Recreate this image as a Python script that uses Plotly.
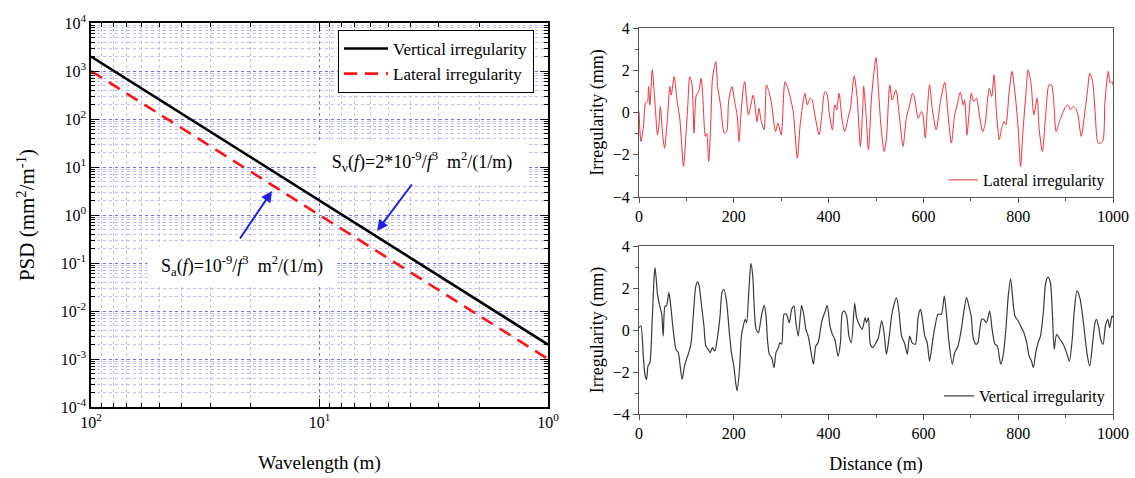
import plotly.graph_objects as go

# ---------------- data ----------------
psd_wavelength = [100, 1]
psd_vertical = [2000, 0.002]
psd_lateral = [1000, 0.001]

psd_y_exponents = [4, 3, 2, 1, 0, -1, -2, -3, -4]
psd_x_exponents = [2, 1, 0]

lateral_dist = [0,4,9,14,18,20,23,28,32,34,
                39,42,45,50,54,58,62,65,68,74,
                81,86,94,99,103,107,112,116,121,126,
                131,134,140,143,147,152,155,162,166,172,
                180,185,189,196,203,207,211,215,220,223,
                231,241,246,249,253,258,264,269,274,279,
                288,293,300,308,315,325,334,340,347,350,
                355,361,365,371,380,385,392,397,401,408,
                413,417,422,429,434,441,446,454,460,467,
                472,474,479,484,491,500,505,510,517,522,
                529,534,542,549,557,564,571,577,582,589,
                596,599,604,608,613,619,627,636,645,652,
                659,666,671,678,684,687,692,696,701,706,
                712,718,725,730,735,739,744,749,754,760,
                765,770,774,781,787,793,800,805,810,816,
                821,827,833,840,844,851,858,865,870,875,
                880,887,894,900,905,910,916,921,926,933,
                940,946,951,957,962,969,978,983,990,994,
                998,1000]
lateral_mm = [0.05,-1.37,-0.74,0.47,0.52,1.23,0.36,2.02,0.99,0.36,
              -1.06,-0.58,0.28,-1.06,-1.69,-0.82,0.36,1.23,0.83,1.70,
              0.44,-0.27,-2.55,-1.06,0.36,1.70,1.31,-0.98,0.83,0.99,
              1.62,0.99,-1.13,-0.98,-2.31,-0.11,1.62,2.41,1.23,0.36,
              -0.98,-0.90,0.52,1.23,0.36,-0.11,-1.37,-0.11,1.15,1.46,
              -0.11,0.83,0.05,-0.43,0.20,-0.43,-0.82,1.31,0.99,0.52,
              -0.90,-0.50,-1.06,1.46,1.07,0.08,-2.16,-0.58,0.60,0.91,
              0.36,0.68,0.60,-0.11,-1.06,-0.27,0.99,0.83,0.05,-0.82,
              0.36,0.13,0.91,-0.43,-0.90,-0.27,0.20,1.73,0.76,-1.61,
              0.20,1.23,-0.11,-1.76,0.83,2.60,1.15,-0.50,-1.84,-1.21,
              1.31,0.60,1.07,-0.11,-1.61,-0.27,0.36,0.91,0.60,-0.27,
              0.05,-0.11,-1.21,0.05,1.31,0.13,-0.82,0.52,1.43,-0.11,
              -1.45,-0.11,0.36,0.96,0.36,0.60,-1.06,-0.11,0.91,0.52,
              0.68,-0.11,-0.90,-0.58,0.52,1.15,0.76,1.78,0.05,-1.29,
              -0.74,-0.43,-0.58,0.99,1.94,0.99,-0.74,-2.55,-0.90,0.83,
              2.02,1.39,-0.11,0.68,-0.74,-1.84,-0.11,1.31,1.31,0.52,
              -0.90,-0.43,-0.03,0.28,0.36,0.13,0.28,0.20,-0.11,-1.13,
              -0.11,0.99,1.86,1.46,0.13,-1.45,-1.37,0.52,1.94,1.39,
              1.46,1.30]

vertical_dist = [0,4,9,13,16,19,23,27,32,34,
                 39,43,48,51,55,58,63,67,72,78,
                 83,86,91,96,100,105,110,115,120,124,
                 127,132,137,141,146,150,155,160,165,171,
                 175,179,185,190,195,200,204,207,212,216,
                 220,224,227,232,236,240,243,247,252,255,
                 259,264,268,271,275,280,285,289,294,297,
                 301,306,311,317,322,327,331,336,343,348,
                 352,357,362,368,373,378,385,389,392,397,
                 403,408,413,420,425,429,433,438,443,448,
                 455,459,466,471,477,480,484,488,493,500,
                 505,512,517,522,528,533,538,543,548,554,
                 561,566,571,576,583,589,594,598,603,608,
                 613,619,624,631,638,644,649,654,661,666,
                 673,680,685,691,696,701,705,711,715,719,
                 723,727,733,740,745,751,756,763,768,774,
                 779,784,788,793,800,807,812,818,823,828,
                 832,837,842,847,853,858,863,868,872,876,
                 881,888,895,902,908,914,918,924,930,935,
                 940,946,951,957,962,965,970,974,979,984,
                 989,993,998,1000]
vertical_mm = [0.11,0.19,-1.24,-2.19,-2.35,-1.71,-1.56,0.03,2.57,2.97,
               1.70,1.22,0.75,-0.29,1.14,1.14,1.78,1.14,0.03,-0.92,
               -1.08,-1.56,-2.35,-1.71,-1.40,-1.08,-0.60,0.83,2.10,2.29,
               2.10,1.14,0.19,-0.76,-0.92,-1.08,-0.84,-1.00,-0.44,0.67,
               1.78,1.94,1.30,0.03,-1.08,-1.71,-2.51,-2.90,-1.87,-0.29,
               0.19,0.51,0.35,1.94,3.17,2.57,1.14,0.03,-0.13,0.19,
               0.75,1.17,0.67,-0.44,-1.16,-1.32,-1.79,-1.08,-0.84,-0.60,
               -0.68,0.75,0.75,0.35,0.98,1.14,0.35,-0.29,1.17,0.67,
               0.03,-0.29,-0.92,-1.63,-0.76,-0.60,0.35,0.67,0.83,1.17,
               0.19,-0.21,-0.44,-1.24,-0.60,0.83,0.90,0.67,-0.29,-0.60,
               1.27,0.59,0.19,0.03,0.59,0.35,0.59,-0.68,-0.84,-0.60,
               -0.37,0.43,-0.13,-1.16,-0.29,0.67,1.22,1.54,0.98,-0.29,
               -0.68,-1.16,-0.29,-0.60,-0.68,0.63,0.98,0.51,-0.29,-0.60,
               -1.48,-0.60,0.11,0.75,0.75,1.62,0.67,-0.60,-1.63,-1.08,
               -0.76,0.03,0.83,1.54,1.14,0.63,-0.37,-0.68,-0.60,0.03,
               0.51,0.51,0.35,0.90,0.03,-0.68,-0.76,-1.63,-1.24,0.03,
               1.62,2.44,1.62,0.67,0.43,0.11,-0.13,-0.60,-1.24,-1.48,
               -1.79,-1.08,-0.60,-0.29,0.83,2.25,2.52,2.25,0.83,-0.92,
               -0.21,-0.44,-0.68,-1.08,-1.48,-0.44,0.83,1.86,1.54,0.83,
               -0.13,-1.24,-1.71,-0.60,0.35,0.51,0.11,-0.44,-0.68,0.19,
               0.51,0.11,0.67,0.60]

assert len(lateral_dist) == len(lateral_mm), (len(lateral_dist), len(lateral_mm))
assert len(vertical_dist) == len(vertical_mm), (len(vertical_dist), len(vertical_mm))

# ---------------- figure ----------------
W, H = 1135, 478
SERIF = "Liberation Serif"


def px(x):
    return x / W


def py(y):
    return 1 - y / H


fig = go.Figure()

fig.add_trace(go.Scatter(x=psd_wavelength, y=psd_vertical, mode="lines",
                         name="Vertical irregularity", xaxis="x", yaxis="y",
                         line=dict(color="black", width=2.6), legend="legend"))
fig.add_trace(go.Scatter(x=psd_wavelength, y=psd_lateral, mode="lines",
                         name="Lateral irregularity", xaxis="x", yaxis="y",
                         line=dict(color="#ff1414", width=2.6, dash="13px,8px"),
                         legend="legend"))

fig.add_trace(go.Scatter(x=lateral_dist, y=lateral_mm, mode="lines",
                         name="Lateral irregularity", xaxis="x2", yaxis="y2",
                         line=dict(color="#f0303a", width=1, shape="spline", smoothing=0.7),
                         legend="legend2"))
fig.add_trace(go.Scatter(x=vertical_dist, y=vertical_mm, mode="lines",
                         name="Vertical irregularity", xaxis="x3", yaxis="y3",
                         line=dict(color="#3a3a3a", width=1.2, shape="spline", smoothing=0.7),
                         legend="legend3"))

tick_font = dict(family=SERIF, size=16, color="black")
grid_major = "#7070ff"
grid_minor = "#bcbcff"

left_dom_x = [px(91), px(548)]
left_dom_y = [py(407), py(23)]
right_dom_x = [px(639), px(1113)]
top_dom_y = [py(197), py(28)]
bot_dom_y = [py(414), py(246)]

frame_r = "#555555"


def right_x(domain, anchor, title=None):
    d = dict(domain=domain, anchor=anchor, range=[0, 1000], tickvals=[0, 200, 400, 600, 800, 1000],
             ticks="outside", ticklen=5, tickcolor=frame_r, showline=True, linecolor=frame_r,
             linewidth=1, mirror=True, showgrid=False, zeroline=False, tickfont=tick_font,
             automargin=False,
             minor=dict(dtick=100, ticks="outside", ticklen=3, tickcolor=frame_r))
    if title:
        d["title"] = dict(text=title, font=dict(family=SERIF, size=18, color="black"), standoff=16)
    return d


def right_y(domain, anchor):
    return dict(domain=domain, anchor=anchor, range=[-4, 4], tickvals=[-4, -2, 0, 2, 4],
                ticks="outside", ticklen=5, tickcolor=frame_r, showline=True, linecolor=frame_r,
                linewidth=1, mirror=True, showgrid=False, zeroline=False, tickfont=tick_font,
                automargin=False,
                minor=dict(dtick=1, ticks="outside", ticklen=3, tickcolor=frame_r),
                title=dict(text="Irregularity (mm)", font=dict(family=SERIF, size=18, color="black"),
                           standoff=4))


def overlay_x(over, anchor):
    return dict(overlaying=over, anchor=anchor, side="top", range=[0, 1000], tickvals=[0, 200, 400, 600, 800, 1000],
                ticks="inside", ticklen=5, tickcolor=frame_r, showticklabels=False, showline=False,
                showgrid=False, zeroline=False, automargin=False,
                minor=dict(dtick=100, ticks="inside", ticklen=3, tickcolor=frame_r))


def overlay_y(over, anchor):
    return dict(overlaying=over, anchor=anchor, side="right", range=[-4, 4], tickvals=[-4, -2, 0, 2, 4],
                ticks="inside", ticklen=5, tickcolor=frame_r, showticklabels=False, showline=False,
                showgrid=False, zeroline=False, automargin=False,
                minor=dict(dtick=1, ticks="inside", ticklen=3, tickcolor=frame_r))


fig.update_layout(
    width=W, height=H,
    margin=dict(l=0, r=0, t=0, b=0, autoexpand=False),
    paper_bgcolor="white", plot_bgcolor="white",
    font=dict(family=SERIF, size=16, color="black"),
    xaxis=dict(type="log", domain=left_dom_x, anchor="y", range=[2, 0],
               tickvals=[10 ** e for e in psd_x_exponents],
               ticktext=["10<sup>%d</sup>" % e for e in psd_x_exponents],
               ticks="inside", ticklen=8, tickcolor="black", showline=True, linecolor="black",
               linewidth=1.5, mirror="allticks", tickfont=tick_font, automargin=False,
               showgrid=True, gridcolor=grid_major, griddash="dot", gridwidth=1, zeroline=False,
               minor=dict(dtick="D1", ticks="inside", ticklen=4, tickcolor="black",
                          showgrid=True, gridcolor=grid_minor, gridwidth=1),
               title=dict(text="Wavelength (m)", font=dict(family=SERIF, size=19, color="black"),
                          standoff=26)),
    yaxis=dict(type="log", domain=left_dom_y, anchor="x", range=[-4, 4],
               tickvals=[10 ** e for e in psd_y_exponents],
               ticktext=["10<sup>%d</sup>" % e for e in psd_y_exponents],
               ticks="inside", ticklen=8, tickcolor="black", showline=True, linecolor="black",
               linewidth=1.5, mirror="allticks", tickfont=tick_font, automargin=False,
               showgrid=True, gridcolor=grid_major, griddash="dot", gridwidth=1, zeroline=False,
               minor=dict(dtick="D1", ticks="inside", ticklen=4, tickcolor="black",
                          showgrid=True, gridcolor=grid_minor, gridwidth=1),
               title=dict(text="PSD (mm<sup>2</sup>/m<sup>-1</sup>)",
                          font=dict(family=SERIF, size=21, color="black"), standoff=20)),
    xaxis2=right_x(right_dom_x, "y2"),
    yaxis2=right_y(top_dom_y, "x2"),
    xaxis3=right_x(right_dom_x, "y3", title="Distance (m)"),
    yaxis3=right_y(bot_dom_y, "x3"),
    xaxis4=overlay_x("x2", "y2"),
    yaxis4=overlay_y("y2", "x2"),
    xaxis5=overlay_x("x3", "y3"),
    yaxis5=overlay_y("y3", "x3"),
    legend=dict(x=px(338), y=py(30), xanchor="left", yanchor="top",
                bgcolor="white", bordercolor="black", borderwidth=1, itemwidth=44,
                font=dict(family=SERIF, size=17, color="black"), tracegroupgap=0),
    legend2=dict(x=px(1110), y=py(180), xanchor="right", yanchor="middle",
                 bgcolor="rgba(0,0,0,0)", font=dict(family=SERIF, size=16, color="black")),
    legend3=dict(x=px(1110), y=py(396), xanchor="right", yanchor="middle",
                 bgcolor="rgba(0,0,0,0)", font=dict(family=SERIF, size=16, color="black")),
    showlegend=True,
)

ann_font = dict(family=SERIF, size=18, color="black")
fig.add_annotation(xref="paper", yref="paper", x=px(422), y=py(162.5),
                   text="S<sub>v</sub>(<i>f</i>)=2*10<sup>-9</sup>/<i>f</i><sup>3</sup>  m<sup>2</sup>/(1/m)",
                   showarrow=False, bgcolor="white", width=204, height=36, borderpad=2,
                   font=ann_font, xanchor="center", yanchor="middle")
fig.add_annotation(xref="paper", yref="paper", x=px(242), y=py(266),
                   text="S<sub>a</sub>(<i>f</i>)=10<sup>-9</sup>/<i>f</i><sup>3</sup>  m<sup>2</sup>/(1/m)",
                   showarrow=False, bgcolor="white", width=184, height=34, borderpad=2,
                   font=ann_font, xanchor="center", yanchor="middle")

arrow_blue = "#1f1fe6"
fig.add_annotation(xref="paper", yref="paper", x=px(377), y=py(231), ax=36, ay=-48,
                   text="", showarrow=True, arrowhead=2, arrowsize=1.1, arrowwidth=2,
                   arrowcolor=arrow_blue)
fig.add_annotation(xref="paper", yref="paper", x=px(272), y=py(191), ax=-33, ay=49,
                   text="", showarrow=True, arrowhead=2, arrowsize=1.1, arrowwidth=2,
                   arrowcolor=arrow_blue)

fig.write_html("out.html")
